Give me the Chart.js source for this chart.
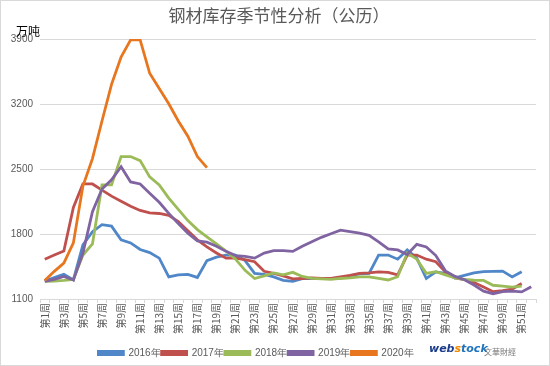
<!DOCTYPE html>
<html>
<head>
<meta charset="utf-8">
<script src="https://cdn.jsdelivr.net/npm/chart.js@4.4.1/dist/chart.umd.min.js"></script>
<style>
  html, body { margin: 0; padding: 0; background: #fff; }
  canvas { display: block; }
</style>
</head>
<body>
<canvas id="chartStok" width="550" height="366"></canvas>
<script>
// kategori minggu 1..52
const weeks = Array.from({ length: 52 }, (_, i) => '第' + (i + 1) + '周');

const yTicks = [1100, 1800, 2500, 3200, 3900];

// data stok per tahun (万吨)
const s2016 = [1294, 1332, 1365, 1305, 1682, 1825, 1901, 1885, 1737, 1704,
  1633, 1600, 1540, 1338, 1360, 1365, 1332, 1513, 1551, 1573,
  1573, 1513, 1376, 1365, 1338, 1300, 1290, 1320, 1320, 1320,
  1320, 1330, 1350, 1370, 1375, 1573, 1573, 1529, 1628, 1540,
  1321, 1392, 1376, 1327, 1354, 1381, 1394, 1398, 1401, 1338, 1394, null];

const s2017 = [1529, 1573, 1617, 2087, 2339, 2339, 2273, 2208, 2153, 2098,
  2054, 2027, 2021, 2000, 1934, 1836, 1737, 1661, 1595, 1540,
  1540, 1524, 1502, 1398, 1376, 1349, 1316, 1321, 1327, 1321,
  1321, 1338, 1354, 1376, 1381, 1392, 1387, 1360, 1573, 1573,
  1529, 1502, 1392, 1327, 1310, 1278, 1228, 1179, 1190, 1207, 1267, null];

const s2018 = [1289, 1294, 1300, 1311, 1573, 1693, 2328, 2328, 2634, 2634,
  2590, 2415, 2328, 2186, 2065, 1945, 1847, 1770, 1693, 1617,
  1529, 1409, 1321, 1349, 1381, 1360, 1387, 1343, 1321, 1316,
  1311, 1321, 1327, 1338, 1338, 1321, 1305, 1340, 1595, 1529,
  1376, 1394, 1360, 1327, 1310, 1302, 1300, 1248, 1239, 1228, 1239, null];

const s2019 = [1289, 1311, 1343, 1305, 1595, 2040, 2284, 2383, 2525, 2361,
  2339, 2240, 2142, 2022, 1912, 1808, 1726, 1712, 1668, 1613,
  1568, 1559, 1540, 1595, 1620, 1620, 1613, 1668, 1717, 1764,
  1803, 1841, 1825, 1810, 1786, 1715, 1639, 1628, 1579, 1688,
  1661, 1568, 1403, 1343, 1307, 1250, 1185, 1157, 1179, 1185, 1176, 1231];

const s2020 = [1300, 1398, 1486, 1704, 2317, 2612, 3017, 3411, 3706, 3890,
  3890, 3531, 3367, 3203, 3017, 2853, 2634, 2514];

const seriesNames = ['2016年', '2017年', '2018年', '2019年', '2020年'];
const seriesData = [s2016, s2017, s2018, s2019, s2020];
const seriesColors = ['#4F87C9', '#C0504D', '#9BBB59', '#8064A2', '#E8761E'];

// plugin: judul, satuan, logo, bingkai
const hiasan = {
  id: 'hiasan',
  afterLayout(chart) {
    // geser legenda sedikit ke kiri dan ke bawah, seperti aslinya
    chart.legend.left -= 12;
    chart.legend.right -= 12;
    chart.legend.top += 2;
    chart.legend.bottom += 2;
  },
  afterDraw(chart) {
    const ctx = chart.ctx;
    ctx.save();
    ctx.textBaseline = 'middle';
    ctx.textAlign = 'center';
    ctx.fillStyle = '#595959';
    ctx.font = '17px "Noto Sans CJK SC"';
    ctx.fillText('钢材库存季节性分析（公历）', 279, 16);

    ctx.textAlign = 'left';
    ctx.fillStyle = '#000';
    ctx.font = '12px "Noto Sans CJK SC"';
    ctx.fillText('万吨', 16, 31);

    // logo
    ctx.font = 'bold italic 11px "DejaVu Sans"';
    let x = 429;
    ctx.fillStyle = '#1B3C8C';
    ctx.fillText('web', x, 349);
    x += ctx.measureText('web').width;
    ctx.fillStyle = '#F08A00';
    ctx.fillText('s', x, 349);
    x += ctx.measureText('s').width;
    ctx.fillStyle = '#1E73BE';
    ctx.fillText('tock', x, 349);
    ctx.fillStyle = '#7a7a7a';
    ctx.font = '8px "Noto Sans CJK SC"';
    ctx.fillText('文華財經', 484, 352);

    ctx.strokeStyle = '#d9d9d9';
    ctx.lineWidth = 1;
    ctx.strokeRect(0.5, 0.5, 549, 365);
    ctx.restore();
  }
};

const ctx = document.getElementById('chartStok').getContext('2d');
const chart = new Chart(ctx, {
  type: 'line',
  data: {
    labels: weeks,
    datasets: seriesData.map((d, i) => ({
      label: seriesNames[i],
      data: d,
      borderColor: seriesColors[i],
      backgroundColor: seriesColors[i],
      borderWidth: 2.8,
      pointRadius: 0,
      tension: 0,
      fill: false,
      order: 4 - i
    }))
  },
  options: {
    responsive: false,
    animation: false,
    devicePixelRatio: 1,
    layout: { padding: { top: 39, right: 14, bottom: 0, left: 0 } },
    plugins: {
      title: { display: false },
      tooltip: { enabled: false },
      legend: {
        position: 'bottom',
        labels: {
          boxWidth: 25,
          boxHeight: 3,
          padding: 1,
          color: '#595959',
          font: { size: 10, family: 'Liberation Sans' },
          sort: (a, b) => a.datasetIndex - b.datasetIndex
        }
      }
    },
    scales: {
      x: {
        offset: true,
        grid: {
          display: true,
          offset: true,
          drawOnChartArea: false,
          drawTicks: true,
          tickLength: 4,
          color: '#d9d9d9'
        },
        border: { display: true, color: '#d9d9d9' },
        ticks: {
          autoSkip: false,
          minRotation: 90,
          maxRotation: 90,
          padding: 0,
          color: '#595959',
          font: { size: 10, family: 'Noto Sans CJK SC' },
          callback: function (val, idx) {
            return idx % 2 === 0 ? weeks[idx] : '';
          }
        },
        afterFit: function (scale) { scale.height = 46; }
      },
      y: {
        min: yTicks[0],
        max: yTicks[yTicks.length - 1],
        afterBuildTicks: function (scale) {
          scale.ticks = yTicks.map(v => ({ value: v }));
        },
        grid: { color: '#d9d9d9', drawTicks: false },
        border: { display: false },
        ticks: {
          padding: 7,
          color: '#595959',
          font: { size: 10, family: 'Liberation Sans' },
          callback: function (v) { return String(v); }
        },
        afterFit: function (scale) { scale.width = 40; }
      }
    }
  },
  plugins: [hiasan]
});
</script>
</body>
</html>
